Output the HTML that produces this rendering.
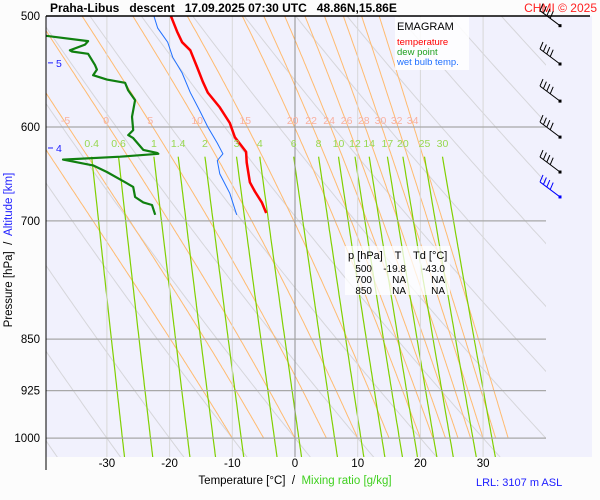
<!DOCTYPE html>
<html><head><meta charset="utf-8"><style>
html,body{margin:0;padding:0;background:#fcfcfc;}
svg{display:block;font-family:"Liberation Sans",sans-serif;}
</style></head><body>
<svg id="chart" width="600" height="500" xmlns="http://www.w3.org/2000/svg">
<defs><clipPath id="plotclip"><rect x="46" y="16" width="500" height="441"/></clipPath></defs>
<rect x="46" y="16" width="546" height="441" fill="#f1f1fd"/>
<g id="bg" clip-path="url(#plotclip)"></g>
<g id="grid"></g>
<g id="series" clip-path="url(#plotclip)"></g>
<g id="labels"></g>
<line x1="46" y1="16" x2="590" y2="16" stroke="#000" stroke-width="1.5"/>
<line x1="46" y1="16" x2="46" y2="470" stroke="#000" stroke-width="1"/>
<text x="50" y="12" font-size="12" font-weight="bold" xml:space="preserve">Praha-Libus   descent   17.09.2025 07:30 UTC   48.86N,15.86E</text>
<text x="597" y="12" font-size="12" fill="#ff2020" text-anchor="end">CHMI © 2025</text>
<g>
<rect x="395" y="17" width="74" height="53" fill="#fff" opacity="0.85"/>
<text x="397" y="30" font-size="11">EMAGRAM</text>
<text x="397" y="45" font-size="9.5" fill="#ff0000">temperature</text>
<text x="397" y="55" font-size="9.5" fill="#20a020">dew point</text>
<text x="397" y="65" font-size="9.5" fill="#2070ff">wet bulb temp.</text>
</g>
<g>
<rect x="345" y="246" width="105" height="49" fill="#fff" opacity="0.75"/>
<text x="348" y="259" font-size="11">p [hPa]</text>
<text x="398" y="259" font-size="11" text-anchor="middle">T</text>
<text x="413" y="259" font-size="11">Td [°C]</text>
<g font-size="10" text-anchor="end">
<text x="372" y="272">500</text><text x="406" y="272">-19.8</text><text x="445" y="272">-43.0</text>
<text x="372" y="283">700</text><text x="406" y="283">NA</text><text x="445" y="283">NA</text>
<text x="372" y="294">850</text><text x="406" y="294">NA</text><text x="445" y="294">NA</text>
</g></g>
<text transform="translate(12,250) rotate(-90)" font-size="11.5" text-anchor="middle" xml:space="preserve">Pressure [hPa]  /  <tspan fill="#2020ff">Altitude [km]</tspan></text>
<text x="295" y="484" font-size="11.5" text-anchor="middle" xml:space="preserve">Temperature [°C]  /  <tspan fill="#40d020">Mixing ratio [g/kg]</tspan></text>
<text x="476" y="486" font-size="11" fill="#2020ff">LRL: 3107 m ASL</text>
<g id="barbs"></g>
</svg>
<script>
// ---- data ----
const pressureTicks = [500, 600, 700, 850, 925, 1000];
const tempTicks = [-30, -20, -10, 0, 10, 20, 30];
const altTicks = [5, 4];
const altTickP = [540, 621];
const tempP = [500,513,522,529,544,557,567,581,596,610,625,636,657,667,679,691];
const tempT = [-19.8,-18.8,-18.0,-16.7,-15.6,-14.7,-13.9,-12.0,-10.4,-9.6,-7.8,-7.7,-7.2,-6.4,-5.3,-4.6];
const dewP = [515,521,524,529,530,532,542,546,551,555,558,565,574,590,603,608,611,623,626,627,630,633,639,646,655,662,673,679,682,693];
const dewT = [-42,-33.0,-33.5,-35.9,-35.6,-33.0,-31.9,-31.6,-32.2,-30.0,-27.1,-26.6,-25.5,-26.0,-25.8,-26.6,-25.8,-24.2,-22.0,-21.8,-27.9,-37.0,-32.2,-30.0,-27.6,-25.8,-25.5,-24.2,-22.8,-22.3];
const wbP = [500,510,522,535,549,567,584,600,616,627,634,648,669,693];
const wbT = [-22.5,-21.9,-20.3,-19.5,-18.0,-16.7,-15.2,-13.9,-12.4,-11.5,-12.4,-12.0,-10.4,-9.3];
const mixRatios = [0.4,0.6,1,1.4,2,3,4,6,8,10,12,14,17,20,25,30];
const mixLabels = ["0.4","0.6","1","1.4","2","3","4","6","8","10","12","14","17","20","25","30"];
const thetaW = [-10,-5,0,5,10,15,20,22,24,26,28,30,32,34];
const thetaWLabeled = [-5,0,5,10,15,20,22,24,26,28,30,32,34];
const thetaDry = [-60,-50,-40,-30,-20,-10,0,10,20,30,40,50,60,70,80,90,100,110,120,130,140,150];
const barbP = [508,541,575,610,646,673];

// ---- scales ----
const NS='http://www.w3.org/2000/svg';
const yOf = p => 16 + 609*Math.log(p/500);
const xOf = t => 295 + 6.27*t;
function mk(tag, attrs, parent){const e=document.createElementNS(NS,tag);for(const k in attrs)e.setAttribute(k,attrs[k]);parent.appendChild(e);return e;}
const bg=document.getElementById('bg'), grid=document.getElementById('grid'), ser=document.getElementById('series'), lab=document.getElementById('labels'), barbs=document.getElementById('barbs');
function pathFrom(ps, ts){return ps.map((p,i)=>(i?'L':'M')+xOf(ts[i]).toFixed(1)+','+yOf(p).toFixed(1)).join('');}

// dry adiabats
thetaDry.forEach(th=>{
  const ps=[],ts=[];
  for(let p=1040;p>=495;p-=5){ps.push(p);ts.push((th+273.15)*Math.pow(p/1000,0.286)-273.15);}
  const e=mk('path',{d:pathFrom(ps,ts),stroke:'#d6d6da','stroke-width':1,fill:'none'},bg);
  
  
});
// moist adiabats
function es(tc){return 6.112*Math.exp(17.67*tc/(tc+243.5));}
thetaW.forEach(tw=>{
  let T=tw+273.15; const ps=[1000],ts=[tw];
  for(let p=1000;p>500;p-=2){
    const tc=T-273.15, e=es(tc), rs=0.622*e/(p-e);
    const dTdp=(287*T+2.5e6*rs)/(p*(1004+2.5e6*2.5e6*rs*0.622/(287*T*T)));
    T-=dTdp*2; ps.push(p-2); ts.push(T-273.15);
  }
  const el=mk('path',{d:pathFrom(ps,ts),stroke:'#ffbb70','stroke-width':1,fill:'none'},bg);
  
  
  if(thetaWLabeled.includes(tw)){
    let i=ps.findIndex(p=>p<=596); const x=xOf(ts[i]);
    const t=mk('text',{x:x.toFixed(1),y:124,'font-size':10.5,fill:'#f8b0a0','text-anchor':'middle'},lab);
    t.textContent=String(tw);
    
    
  }
});
// mixing ratio lines
mixRatios.forEach((w,i)=>{
  const ps=[],ts=[];
  for(let p=1035;p>=628;p-=5){const e=w*p/(622+w), l=Math.log(e/6.112);ps.push(p);ts.push(243.5*l/(17.67-l));}
  const el=mk('path',{d:pathFrom(ps,ts),stroke:'#80d000','stroke-width':1.2,fill:'none'},bg);
  
  
  const t=mk('text',{x:xOf(ts[ts.length-1]).toFixed(1),y:147,'font-size':10.5,fill:'#98d850','text-anchor':'middle'},lab);
  t.textContent=mixLabels[i];
  
  
});
// grid
tempTicks.forEach(t=>{
  const l=mk('line',{x1:xOf(t),y1:16,x2:xOf(t),y2:457,stroke:t===0?'#909090':'#d8d8d8','stroke-width':1},grid);
  
  
  const tx=mk('text',{x:xOf(t),y:467,'font-size':11.5,'text-anchor':'middle'},lab);
  tx.textContent=String(t);
  
  
});
pressureTicks.forEach(p=>{
  if(p!==500){const l=mk('line',{x1:46,y1:yOf(p),x2:546,y2:yOf(p),stroke:'#a8a8a8','stroke-width':1.2},grid);
  
  }
  const tx=mk('text',{x:40,y:yOf(p)+4,'font-size':11.5,'text-anchor':'end'},lab);
  tx.textContent=String(p);
  
  
});
altTicks.forEach((a,i)=>{
  const y=yOf(altTickP[i]);
  const l=mk('line',{x1:48,y1:y,x2:53,y2:y,stroke:'#2020ff','stroke-width':1},lab);
  
  
  const tx=mk('text',{x:56,y:y+4,'font-size':10.5,fill:'#2020ff'},lab);
  tx.textContent=String(a);
  
  
});
// series
const wb=mk('path',{d:pathFrom(wbP,wbT),stroke:'#2070ff','stroke-width':1,fill:'none'},ser);


const dw=mk('path',{d:pathFrom(dewP,dewT),stroke:'#108010','stroke-width':2.2,fill:'none','stroke-linejoin':'round'},ser);


const tp=mk('path',{d:pathFrom(tempP,tempT),stroke:'#ff0000','stroke-width':2.5,fill:'none','stroke-linejoin':'round'},ser);


// wind barbs
barbP.forEach((p,i)=>{
  const col=i===barbP.length-1?'#0000ff':'#000';
  const x=560,y=yOf(p);
  const g=mk('g',{stroke:col,'stroke-width':1,fill:'none'},barbs);
  
  
  mk('line',{x1:x,y1:y,x2:x-20,y2:y-15},g);
  for(let k=0;k<4;k++){const bx=x-20+k*3.4,by=y-15+k*2.55;mk('line',{x1:bx,y1:by,x2:bx+3,y2:by-7},g);}
  mk('rect',{x:x-1.5,y:y-1.5,width:3,height:3,fill:col,stroke:'none'},g);
});
</script>
</body></html>
